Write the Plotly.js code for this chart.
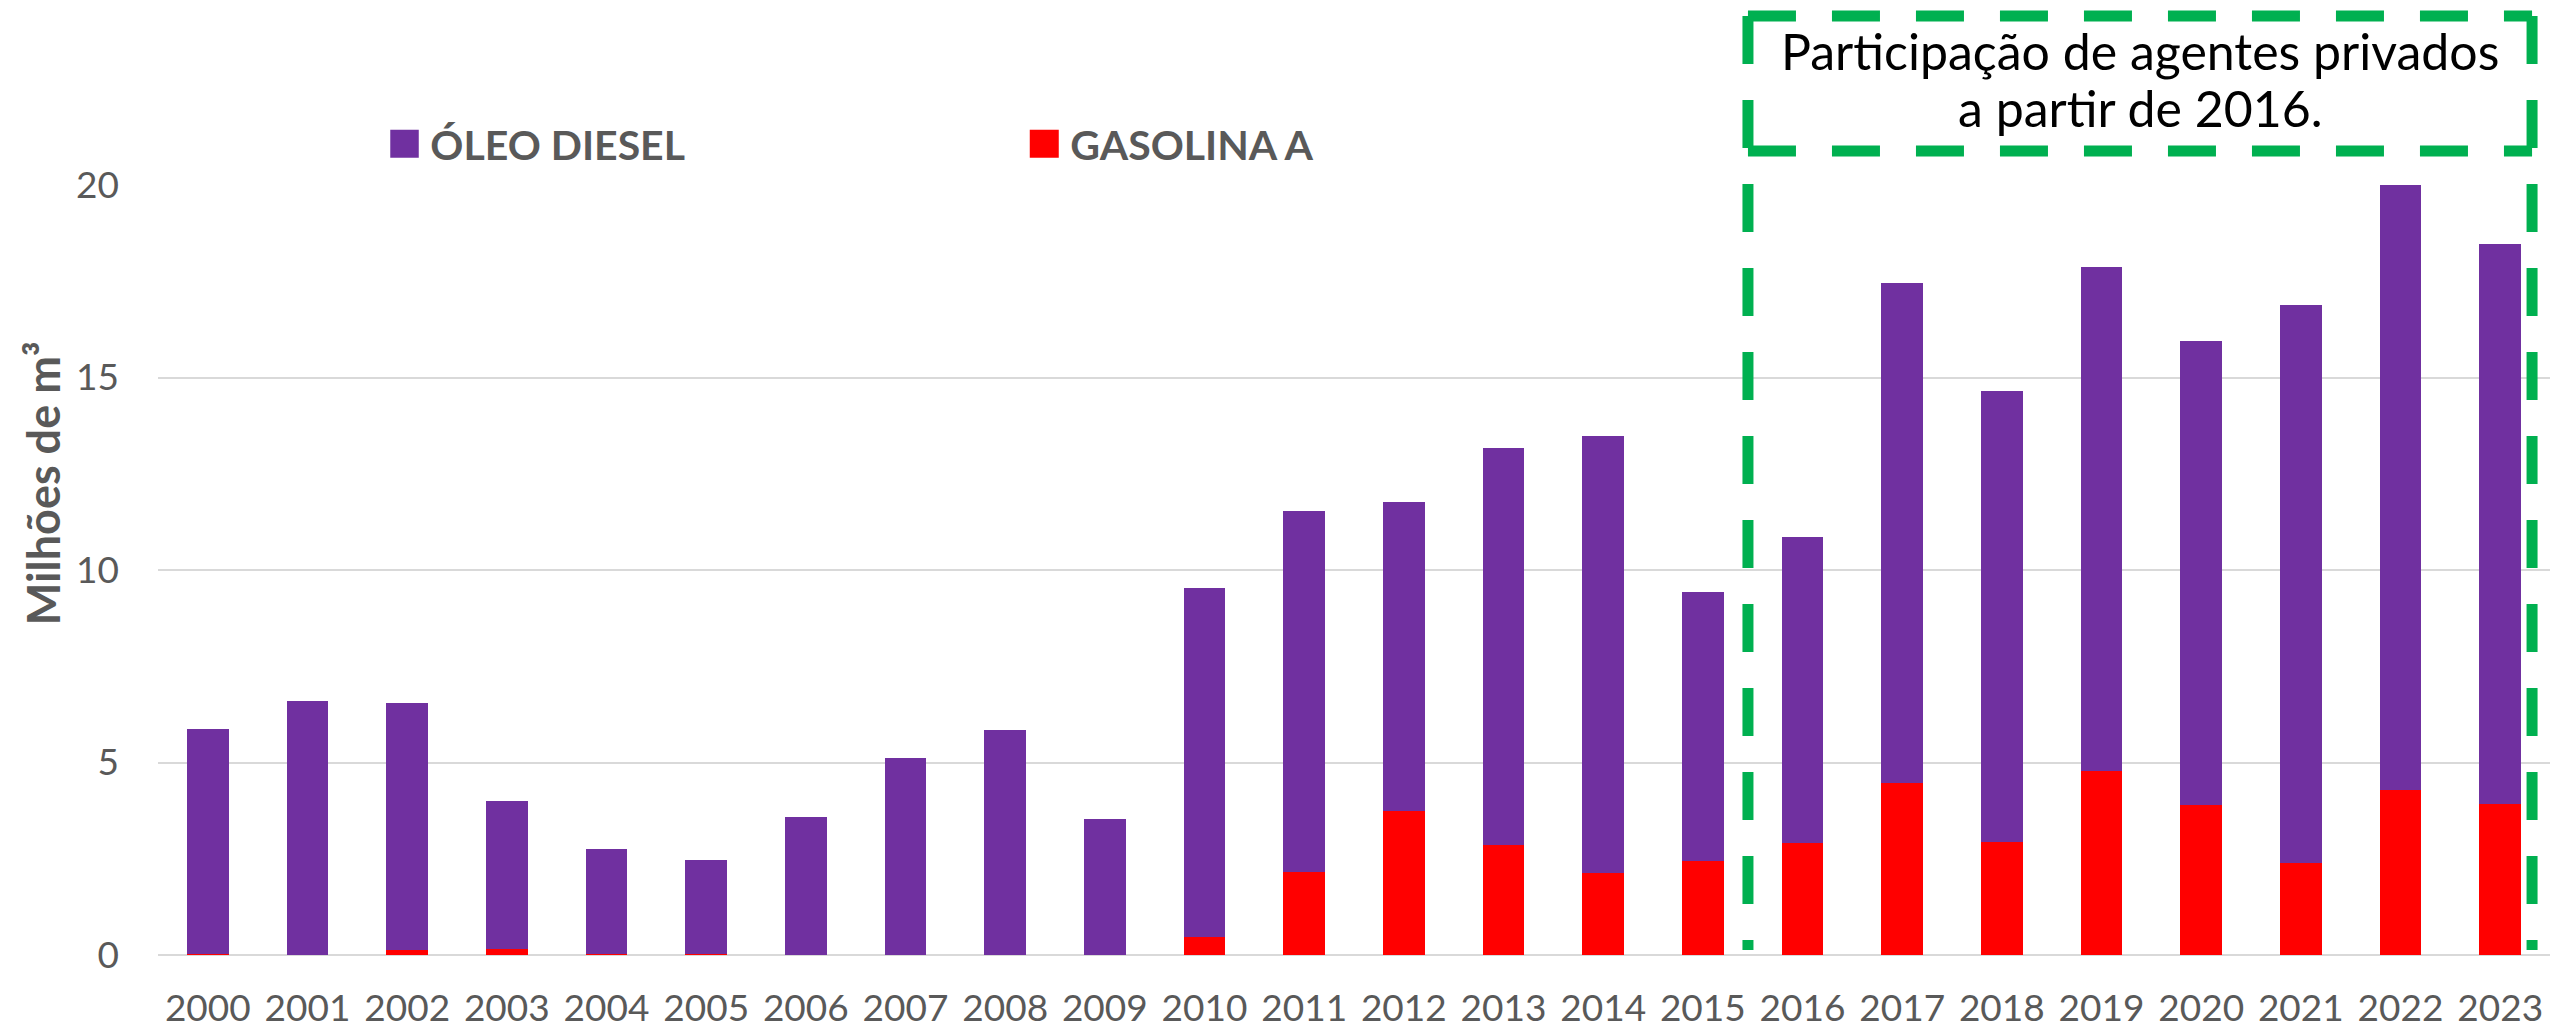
<!DOCTYPE html>
<html>
<head>
<meta charset="utf-8">
<script src="https://cdn.plot.ly/plotly-3.0.1.min.js"></script>
<style>html,body{margin:0;padding:0;background:#fff;}#chart{width:2552px;height:1029px;}</style>
</head>
<body>
<div id="chart"></div>
<script>
// Categories (years)
const years = ['2000','2001','2002','2003','2004','2005','2006','2007','2008','2009','2010','2011',
               '2012','2013','2014','2015','2016','2017','2018','2019','2020','2021','2022','2023'];
// Gasolina A (milhões de m³) - bottom segment
const gasolinaA = [0.02, 0.01, 0.14, 0.16, 0.02, 0.03, 0.01, 0.01, 0.01, 0.01, 0.48, 2.15,
                   3.75, 2.85, 2.14, 2.44, 2.90, 4.46, 2.93, 4.78, 3.90, 2.39, 4.29, 3.92];
// Óleo Diesel (milhões de m³) - top segment
const oleoDiesel = [5.85, 6.59, 6.40, 3.85, 2.74, 2.43, 3.57, 5.11, 5.84, 3.52, 9.05, 9.39,
                    8.02, 10.33, 11.34, 6.99, 7.95, 13.00, 11.71, 13.08, 12.05, 14.49, 15.71, 14.55];
const seriesNames = ['GASOLINA A', 'ÓLEO DIESEL'];
const yTicks = [0, 5, 10, 15, 20];
const yTitle = 'Milhões de m³';
const noteLines = ['Participação de agentes privados', 'a partir de 2016.'];

const FONT = 'Lato, "Open Sans", sans-serif';
const GRAY = '#595959';
const GREEN = '#00B050';

const traces = [
  {type: 'bar', name: seriesNames[0], x: years, y: gasolinaA,
   marker: {color: '#FF0000'}, hoverinfo: 'x+y+name'},
  {type: 'bar', name: seriesNames[1], x: years, y: oleoDiesel,
   marker: {color: '#7030A0'}, hoverinfo: 'x+y+name'}
];

const dashStyle = {color: GREEN, width: 11, dash: '48px,36px'};
const boxL = 0.6647, boxR = 0.9925, boxTop = 1.2195, boxMid = 1.0442, boxBot = 0.0065;

const layout = {
  width: 2552, height: 1029,
  margin: {l: 158, r: 2, t: 185, b: 74},
  paper_bgcolor: '#ffffff', plot_bgcolor: '#ffffff',
  barmode: 'stack', bargap: 0.584,
  font: {family: FONT, color: GRAY},
  showlegend: true,
  legend: {
    orientation: 'h', x: 0.0971, xanchor: 'left', y: 1.053, yanchor: 'middle',
    traceorder: 'reversed', entrywidth: 595,
    font: {family: FONT, size: 41, color: GRAY, weight: 'bold'},
    bgcolor: 'rgba(0,0,0,0)'
  },
  xaxis: {
    type: 'category', showgrid: false, zeroline: false, showline: false, ticks: '',
    tickfont: {family: FONT, size: 37, color: GRAY}, ticklabelstandoff: 28, fixedrange: true
  },
  yaxis: {
    range: [0, 20], tickvals: yTicks, showgrid: true, gridcolor: '#d9d9d9', gridwidth: 2,
    zeroline: true, zerolinecolor: '#d9d9d9', zerolinewidth: 2, showline: false, ticks: '',
    tickfont: {family: FONT, size: 37, color: GRAY}, ticklabelstandoff: 38, fixedrange: true
  },
  shapes: [
    {type: 'line', xref: 'paper', yref: 'paper', x0: boxL, x1: boxR, y0: boxTop, y1: boxTop, line: dashStyle},
    {type: 'line', xref: 'paper', yref: 'paper', x0: boxL, x1: boxR, y0: boxMid, y1: boxMid, line: dashStyle},
    {type: 'line', xref: 'paper', yref: 'paper', x0: boxL, x1: boxL, y0: boxTop, y1: boxBot, line: dashStyle},
    {type: 'line', xref: 'paper', yref: 'paper', x0: boxR, x1: boxR, y0: boxTop, y1: boxBot, line: dashStyle}
  ],
  annotations: [
    {xref: 'paper', yref: 'paper', x: (boxL + boxR) / 2, y: 1.174,
     xanchor: 'center', yanchor: 'middle', showarrow: false, text: noteLines[0],
     font: {family: FONT, size: 50, color: '#000000'}},
    {xref: 'paper', yref: 'paper', x: (boxL + boxR) / 2, y: 1.100,
     xanchor: 'center', yanchor: 'middle', showarrow: false, text: noteLines[1],
     font: {family: FONT, size: 50, color: '#000000'}},
    {xref: 'paper', yref: 'paper', x: -0.048, y: 0.613, xanchor: 'center', yanchor: 'middle',
     showarrow: false, textangle: -90, text: yTitle,
     font: {family: FONT, size: 45, color: GRAY, weight: 'bold'}}
  ]
};

const gdEl = document.getElementById('chart');
function enlargeLegendSymbols() {
  // enlarge the legend colour squares to match the reference size
  gdEl.querySelectorAll('g.legendpoints path').forEach(function(p) {
    p.setAttribute('d', 'M8.5,14H-20.5V-14H8.5Z');
  });
}
Plotly.newPlot(gdEl, traces, layout, {displayModeBar: false, staticPlot: true}).then(function() {
  enlargeLegendSymbols();
  gdEl.on('plotly_afterplot', enlargeLegendSymbols);
  setTimeout(enlargeLegendSymbols, 50);
  setTimeout(enlargeLegendSymbols, 300);
});
</script>
</body>
</html>
